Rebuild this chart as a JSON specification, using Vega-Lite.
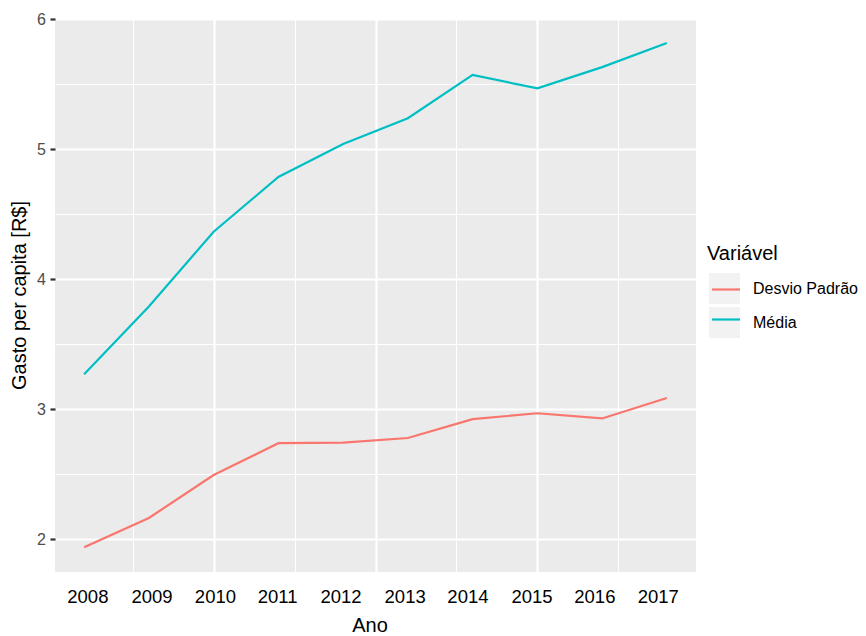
{
  "$schema": "https://vega.github.io/schema/vega-lite/v6.json",
  "width": 641,
  "height": 553,
  "autosize": "none",
  "padding": {"left": 55, "top": 19, "right": 170, "bottom": 64},
  "background": "white",
  "config": {
    "font": "Liberation Sans",
    "view": {"fill": "#EBEBEB", "stroke": null},
    "legend": {"padding": 0}
  },
  "data": {
    "values": [
      {"ano": 2008, "serie": "Média", "valor": 3.27},
      {"ano": 2009, "serie": "Média", "valor": 3.79},
      {"ano": 2010, "serie": "Média", "valor": 4.365},
      {"ano": 2011, "serie": "Média", "valor": 4.786},
      {"ano": 2012, "serie": "Média", "valor": 5.04},
      {"ano": 2013, "serie": "Média", "valor": 5.237},
      {"ano": 2014, "serie": "Média", "valor": 5.57},
      {"ano": 2015, "serie": "Média", "valor": 5.467},
      {"ano": 2016, "serie": "Média", "valor": 5.63},
      {"ano": 2017, "serie": "Média", "valor": 5.815},
      {"ano": 2008, "serie": "Desvio Padrão", "valor": 1.94},
      {"ano": 2009, "serie": "Desvio Padrão", "valor": 2.165},
      {"ano": 2010, "serie": "Desvio Padrão", "valor": 2.495},
      {"ano": 2011, "serie": "Desvio Padrão", "valor": 2.74},
      {"ano": 2012, "serie": "Desvio Padrão", "valor": 2.745},
      {"ano": 2013, "serie": "Desvio Padrão", "valor": 2.78},
      {"ano": 2014, "serie": "Desvio Padrão", "valor": 2.925},
      {"ano": 2015, "serie": "Desvio Padrão", "valor": 2.97},
      {"ano": 2016, "serie": "Desvio Padrão", "valor": 2.93},
      {"ano": 2017, "serie": "Desvio Padrão", "valor": 3.087}
    ]
  },
  "encoding": {
    "x": {
      "field": "ano",
      "type": "quantitative",
      "scale": {"domain": [2007.55, 2017.45], "nice": false, "zero": false},
      "axis": {
        "title": "Ano",
        "values": [2008.05, 2008.75, 2009.04, 2010, 2010.02, 2010.98, 2011.25, 2011.96, 2012.5, 2012.95, 2013.75, 2013.92, 2014.91, 2015, 2015.88, 2016.25, 2016.86],
        "labelExpr": "indexof([2008.75, 2010, 2011.25, 2012.5, 2013.75, 2015, 2016.25], datum.value) >= 0 ? '' : '' + round(datum.value)",
        "labelOverlap": false,
        "labelFlush": false,
        "labelBound": false,
        "ticks": false,
        "tickSize": 0,
        "domain": false,
        "labelPadding": 15,
        "labelFontSize": 18.5,
        "labelColor": "#000000",
        "grid": true,
        "gridColor": "#FFFFFF",
        "gridWidth": {"condition": {"test": "datum.value === 2010 || datum.value === 2012.5 || datum.value === 2015", "value": 2.2}, "value": 1.1},
        "gridOpacity": {"condition": {"test": "indexof([2008.75, 2010, 2011.25, 2012.5, 2013.75, 2015, 2016.25], datum.value) >= 0", "value": 1}, "value": 0},
        "titleFontSize": 20,
        "titleColor": "#000000",
        "titleFontWeight": "normal",
        "titleX": 314.5,
        "titleY": 59,
        "titleBaseline": "alphabetic",
        "titleAlign": "center"
      }
    },
    "y": {
      "field": "valor",
      "type": "quantitative",
      "scale": {"domain": [1.75, 6.0], "nice": false, "zero": false},
      "axis": {
        "title": "Gasto per capita [R$]",
        "values": [2, 2.5, 3, 3.5, 4, 4.5, 5, 5.5, 6],
        "labelExpr": "datum.value % 1 === 0 ? '' + datum.value : ''",
        "labelOverlap": false,
        "labelFlush": false,
        "domain": false,
        "ticks": true,
        "tickSize": 5,
        "tickWidth": 2.2,
        "tickColor": "#333333",
        "tickOpacity": {"condition": {"test": "datum.value % 1 === 0", "value": 1}, "value": 0},
        "grid": true,
        "gridColor": "#FFFFFF",
        "gridWidth": {"condition": {"test": "datum.value % 1 === 0", "value": 2.2}, "value": 1.1},
        "labelFontSize": 16,
        "labelColor": "#4D4D4D",
        "labelPadding": 4.5,
        "titleFontSize": 20,
        "titleColor": "#000000",
        "titleFontWeight": "normal",
        "titleX": -30,
        "titleY": 276,
        "titleBaseline": "alphabetic",
        "titleAlign": "center",
        "titleAngle": -90
      }
    }
  },
  "layer": [
    {
      "mark": {"type": "square", "opacity": 0},
      "encoding": {
        "fill": {
          "field": "serie",
          "type": "nominal",
          "scale": {"domain": ["Desvio Padrão", "Média"], "range": ["#F2F2F2", "#F2F2F2"]},
          "legend": {
            "orient": "none",
            "legendX": 652,
            "legendY": 224.6,
            "title": "Variável",
            "titleFontSize": 20,
            "titleColor": "#000000",
            "titleFontWeight": "normal",
            "titlePadding": 9.5,
            "symbolType": "square",
            "symbolSize": 961,
            "symbolStrokeWidth": 0,
            "symbolOffset": 2,
            "rowPadding": 3,
            "labelFontSize": 16,
            "labelColor": "#000000",
            "labelOffset": 13,
            "encode": {"symbols": {"update": {"opacity": {"value": 1}}}}
          }
        }
      }
    },
    {
      "mark": {"type": "line", "strokeWidth": 2.2},
      "encoding": {
        "stroke": {
          "field": "serie",
          "type": "nominal",
          "scale": {"range": ["#F8766D", "#00BFC4"]},
          "legend": {
            "orient": "none",
            "legendX": 652,
            "legendY": 255,
            "title": null,
            "symbolType": "stroke",
            "symbolSize": 784,
            "symbolStrokeWidth": 2.2,
            "symbolOffset": 3.5,
            "rowPadding": 6,
            "labelFontSize": 16,
            "labelExpr": "''",
            "labelOffset": 13
          }
        }
      }
    }
  ]
}
